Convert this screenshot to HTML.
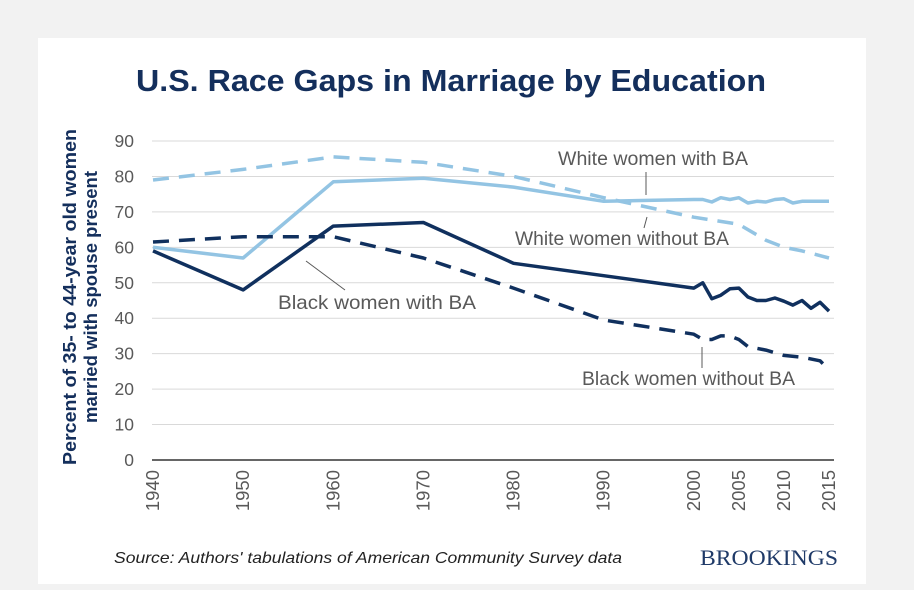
<!DOCTYPE html>
<html><head><meta charset="utf-8"><style>
body{margin:0;background:#f2f2f2;}
#wrap{position:relative;width:914px;height:590px;overflow:hidden;background:#f2f2f2;}
#card{position:absolute;left:38px;top:38px;width:828px;height:546px;background:#fff;}
svg{position:absolute;left:0;top:0;}
</style></head><body>
<div id="wrap">
<div id="card"></div>
<svg id="chart" width="914" height="590" font-family="Liberation Sans, Arial, sans-serif"></svg>
</div>
<script>
const years=[1940,1950,1960,1970,1980,1990,2000,2001,2002,2003,2004,2005,2006,2007,2008,2009,2010,2011,2012,2013,2014,2015];
const whiteBA=[60,57,78.5,79.5,77,73,73.5,73.5,72.8,74,73.5,74,72.5,73,72.8,73.5,73.7,72.5,73,73,73,73];
const blackBA=[59,48,66,67,55.5,52,48.5,50,45.5,46.5,48.3,48.5,46,45,45,45.7,44.8,43.7,45,42.8,44.5,42];
const wnYears=[1940,1950,1960,1970,1980,1990,2000,2005,2008,2010,2012,2015];
const whiteNoBA=[79,82,85.5,84,80,74,68.5,66.5,62,60,59,57];
const bnYears=[1940,1950,1960,1970,1980,1990,2000,2001,2002,2003,2004,2005,2006,2008,2010,2012,2014,2015];
const blackNoBA=[61.5,63,63,57,48.5,39.5,35.5,34,34,35,35,34,32,31,29.5,29,28,25.5];
const yTicks=[0,10,20,30,40,50,60,70,80,90];
const xTicks=[1940,1950,1960,1970,1980,1990,2000,2005,2010,2015];

const NS='http://www.w3.org/2000/svg';
const svg=document.getElementById('chart');
const X=y=>153+(y-1940)*(829-153)/75;
const Y=v=>460-v*(460-141)/90;
function mk(tag,attrs,parent){const e=document.createElementNS(NS,tag);for(const k in attrs)e.setAttribute(k,attrs[k]);(parent||svg).appendChild(e);return e;}

const title=mk('text',{x:451,y:91,'text-anchor':'middle','font-size':31,'font-weight':'bold',fill:'#142f5c',textLength:630,lengthAdjust:'spacingAndGlyphs'});
title.textContent='U.S. Race Gaps in Marriage by Education';



yTicks.forEach(t=>{
  const g=mk('line',{x1:152,x2:834,y1:Y(t),y2:Y(t),stroke:t===0?'#333':'#d9d9d9','stroke-width':t===0?1.5:1});
  
  
  const l=mk('text',{x:134,y:Y(t)+6,'text-anchor':'end','font-size':17.5,fill:'#595959'});
  l.textContent=t;
  
  
});
xTicks.forEach(t=>{
  const l=mk('text',{transform:`translate(${X(t)+6},470) rotate(-90)`,'text-anchor':'end','font-size':18.5,fill:'#595959'});
  l.textContent=t;
  
  
});
const yt=mk('text',{transform:'translate(0,297) rotate(-90)','text-anchor':'middle','font-size':18.5,'font-weight':'bold',fill:'#142f5c'});


const t1=mk('tspan',{x:0,y:76,textLength:336,lengthAdjust:'spacingAndGlyphs'},yt);t1.textContent='Percent of 35- to 44-year old women';
const t2=mk('tspan',{x:0,y:97,textLength:252,lengthAdjust:'spacingAndGlyphs'},yt);t2.textContent='married with spouse present';

function series(xs,vs,color,dash,name){
  const d=xs.map((x,i)=>(i?'L':'M')+X(x).toFixed(1)+','+Y(vs[i]).toFixed(1)).join(' ');
  const p=mk('path',{d,fill:'none',stroke:color,'stroke-width':3.5,'stroke-linejoin':'round'});
  if(dash)p.setAttribute('stroke-dasharray','16,10');
  
  
}
series(wnYears,whiteNoBA,'#93c4e3',true,'white-without-ba-line');
series(years,whiteBA,'#93c4e3',false,'white-with-ba-line');
series(bnYears,blackNoBA,'#10305e',true,'black-without-ba-line');
series(years,blackBA,'#10305e',false,'black-with-ba-line');

function label(txt,x,y,w,name,lx1,ly1,lx2,ly2){
  const t=mk('text',{x,y,'font-size':19.5,fill:'#595959',textLength:w,lengthAdjust:'spacingAndGlyphs'});
  t.textContent=txt;
  
  
  const l=mk('line',{x1:lx1,y1:ly1,x2:lx2,y2:ly2,stroke:'#595959','stroke-width':1});
  
  
}
label('White women with BA',558,165,190,'white-with-ba-label',646,172,646,195);
label('White women without BA',515,245,214,'white-without-ba-label',647,217,644,228);
label('Black women with BA',278,309,198,'black-with-ba-label',306,261,345,290);
label('Black women without BA',582,385,213,'black-without-ba-label',702,347,702,368);

const src=mk('text',{x:114,y:563,'font-size':16,'font-style':'italic',fill:'#222',textLength:508,lengthAdjust:'spacingAndGlyphs'});
src.textContent="Source: Authors' tabulations of American Community Survey data";


const br=mk('text',{x:838,y:565,'text-anchor':'end','font-size':22,'font-family':'Liberation Serif, serif',fill:'#1f3a68',textLength:138,lengthAdjust:'spacingAndGlyphs'});
br.textContent='BROOKINGS';


</script>
</body></html>
